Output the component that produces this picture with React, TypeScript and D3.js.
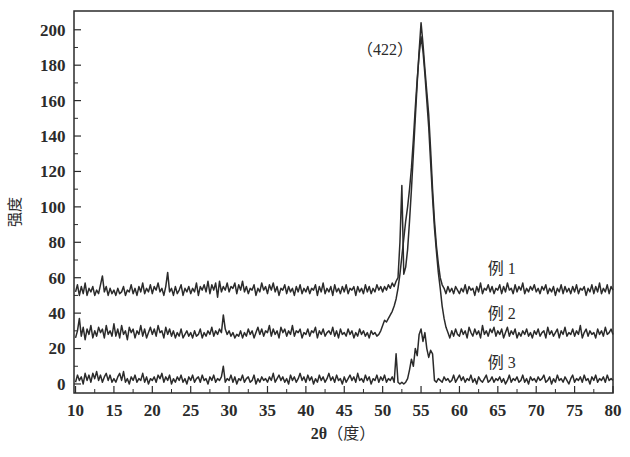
import React from 'react';
import * as d3 from 'd3';

// XRD pattern, sampled every 0.25 degree from 10 to 80
const startAngle = 10;
const stepAngle = 0.25;

const sample1 = [
  52, 56, 50, 55, 51, 57, 50, 54, 52, 55, 50, 53, 51, 56, 61, 52, 55, 50, 54, 51,
  53, 50, 54, 51, 52, 55, 50, 53, 52, 56, 51, 54, 50, 55, 52, 57, 51, 54, 52, 56,
  51, 55, 53, 57, 52, 54, 50, 55, 63, 52, 54, 50, 55, 51, 53, 56, 50, 54, 52, 55,
  51, 54, 52, 57, 50, 55, 53, 56, 52, 58, 51, 56, 53, 57, 49, 58, 52, 55, 53, 57,
  52, 55, 54, 57, 51, 56, 53, 58, 52, 55, 51, 54, 53, 56, 50, 54, 52, 57, 53, 55,
  51, 56, 53, 57, 52, 55, 50, 54, 53, 56, 51, 55, 52, 54, 50, 55, 52, 56, 51, 54,
  52, 55, 51, 54, 53, 56, 50, 55, 52, 57, 51, 54, 52, 55, 50, 56, 52, 54, 51, 55,
  52, 56, 51, 54, 53, 55, 50, 55, 52, 54, 51, 56, 52, 55, 51, 54, 52, 56, 53, 55,
  52, 55, 53, 56, 54, 57, 55, 58, 60, 80, 112, 62, 66, 76, 92, 110, 130, 150, 170, 188,
  204, 192, 178, 165, 152, 132, 110, 92, 78, 68, 60, 56, 54, 51, 55, 52, 54, 51, 55, 53,
  51, 54, 52, 56, 51, 55, 53, 54, 50, 55, 52, 57, 51, 54, 53, 56, 52, 55, 51, 54,
  53, 56, 51, 55, 52, 57, 53, 54, 51, 56, 52, 55, 53, 57, 51, 54, 52, 55, 53, 56,
  52, 54, 51, 55, 53, 56, 51, 54, 52, 55, 50, 54, 52, 56, 51, 55, 52, 54, 51, 55,
  52, 56, 51, 54, 53, 55, 50, 54, 52, 56, 51, 55, 52, 57, 51, 54, 52, 56, 51, 55,
  53,
];

const sample2 = [
  26, 30, 37, 27, 32, 25, 31, 28, 33, 26, 30, 27, 32, 29, 31, 26, 33, 28, 30, 27,
  34, 27, 31, 26, 33, 28, 30, 25, 32, 29, 31, 26, 30, 28, 33, 27, 31, 26, 29, 32,
  28, 31, 27, 33, 29, 30, 26, 32, 28, 31, 27, 30, 26, 29, 27, 31, 26, 28, 30, 27,
  29, 26, 30, 27, 28, 31, 26, 29, 27, 30, 28, 32, 27, 30, 28, 31, 29, 39, 31, 28,
  30, 27, 29, 26, 28, 27, 30, 26, 29, 27, 31, 28, 30, 26, 29, 32, 28, 31, 27, 30,
  29, 33, 27, 31, 28, 30, 26, 32, 29, 31, 27, 30, 28, 33, 27, 30, 29, 31, 26, 29,
  28, 31, 27, 30, 29, 32, 26, 30, 28, 31, 27, 29, 30, 28, 32, 27, 30, 26, 31, 28,
  29, 27, 31, 28, 30, 26, 29, 27, 31, 28, 30, 27, 29, 26, 30, 28, 29, 27, 28, 30,
  33, 36, 35, 37, 39, 41, 44, 48, 54, 62, 72, 82, 92, 100, 110, 122, 138, 156, 172, 186,
  196, 188, 175, 160, 145, 125, 105, 88, 75, 63, 54, 44, 37, 32, 29, 26, 30, 27, 31, 28,
  27, 31, 28, 30, 26, 32, 29, 27, 31, 28, 30, 26, 33, 28, 30, 27, 31, 29, 32, 27,
  30, 28, 31, 26, 29, 32, 27, 30, 28, 31, 26, 29, 27, 30, 28, 31, 27, 29, 26, 30,
  28, 31, 27, 29, 30, 26, 32, 28, 30, 27, 29, 31, 26, 30, 28, 32, 27, 29, 28, 31,
  27, 30, 28, 33, 26, 29, 31, 27, 30, 28, 29, 26, 31, 28, 30, 27, 32, 28, 29, 31,
  28,
];

const sample3 = [
  1, 5, 2, 4, 0, 6, 2, 5, 1, 6, 3, 7, 2, 5, 1, 4, 6, 2, 5, 1,
  3, 1, 4, 6, 2, 7, 1, 3, 0, 4, 2, 5, 1, 3, 2, 6, 1, 4, 0, 3,
  2, 4, 1, 5, 3, 6, 1, 4, 2, 5, 0, 3, 1, 4, 2, 5, 1, 3, 0, 4,
  2, 5, 1, 3, 4, 1, 5, 2, 3, 0, 4, 2, 5, 1, 3, 2, 4, 10, 1, 3,
  2, 5, 1, 4, 0, 3, 2, 5, 1, 3, 4, 1, 2, 5, 0, 3, 1, 4, 2, 3,
  1, 4, 2, 6, 1, 3, 5, 2, 4, 1, 3, 0, 5, 2, 4, 1, 3, 6, 2, 4,
  1, 5, 2, 4, 0, 3, 1, 5, 2, 4, 1, 3, 6, 2, 4, 1, 5, 2, 3, 0,
  4, 1, 3, 5, 2, 4, 1, 6, 2, 3, 1, 5, 2, 4, 0, 3, 2, 5, 1, 4,
  2, 5, 1, 3, 2, 4, 1, 17, 1, 0, 1, 0, 1, 3, 8, 14, 10, 20, 16, 28,
  31, 24, 29, 20, 15, 19, 17, 2, 1, 3, 2, 1, 4, 2, 3, 1, 2, 5, 1, 3,
  5, 2, 4, 1, 3, 2, 5, 1, 3, 0, 4, 2, 1, 3, 5, 1, 2, 4, 1, 3,
  2, 4, 1, 3, 0, 2, 5, 1, 3, 2, 4, 1, 2, 5, 1, 3, 0, 4, 2, 3,
  1, 4, 2, 3, 5, 1, 2, 4, 0, 3, 1, 5, 2, 3, 1, 4, 2, 0, 3, 5,
  1, 3, 2, 4, 1, 5, 2, 3, 0, 4, 2, 5, 1, 3, 2, 4, 1, 5, 2, 3,
  2,
];

const seriesNames = ['例 1', '例 2', '例 3'];
const seriesLabelAngle = 63.7;
const seriesLabelLevels = [65, 39.7, 12];

const peakLabelAngle = 50.3;
const peakLabelLevel = 189;

const xTicks = [10, 15, 20, 25, 30, 35, 40, 45, 50, 55, 60, 65, 70, 75, 80];
const yTicks = [0, 20, 40, 60, 80, 100, 120, 140, 160, 180, 200];

const width = 630;
const height = 457;
const left = 74;
const right = 613;
const top = 11;
const bottom = 393;

const serif = '"Liberation Serif", "DejaVu Serif", serif';
const cjk = '"Noto Sans CJK SC", sans-serif';
const ink = '#2b2b2b';

export default function App() {
  const x = d3.scaleLinear().domain([9.8, 80]).range([left, right]);
  const y = d3.scaleLinear().domain([-5.1, 210.6]).range([bottom, top]);

  const line = d3
    .line<number>()
    .x((d, i) => x(startAngle + i * stepAngle))
    .y((d) => y(d));

  const minorX = d3.range(10, 80.01, 2.5).filter((t) => !xTicks.includes(t));
  const minorY = d3.range(0, 210, 10).filter((t) => !yTicks.includes(t));

  return (
    <svg
      width={width}
      height={height}
      style={{ position: 'absolute', left: 0, top: 0, background: '#fff' }}
    >
      {/* traces */}
      {[sample1, sample2, sample3].map((s, k) => (
        <path
          key={k}
          d={line(s) || ''}
          fill="none"
          stroke={ink}
          strokeWidth={1.5}
          strokeLinejoin="round"
        />
      ))}

      {/* frame */}
      <rect
        x={left}
        y={top}
        width={right - left}
        height={bottom - top}
        fill="none"
        stroke={ink}
        strokeWidth={1.5}
      />

      {/* x ticks, inward */}
      {xTicks.map((t) => (
        <g key={'x' + t}>
          <line x1={x(t)} x2={x(t)} y1={bottom} y2={bottom - 7} stroke={ink} strokeWidth={1.2} />
          <text
            x={x(t)}
            y={416}
            textAnchor="middle"
            fontFamily={serif}
            fontWeight="bold"
            fontSize={17}
            fill={ink}
          >
            {t}
          </text>
        </g>
      ))}
      {minorX.map((t) => (
        <line key={'mx' + t} x1={x(t)} x2={x(t)} y1={bottom} y2={bottom - 4} stroke={ink} strokeWidth={1} />
      ))}

      {/* y ticks, inward */}
      {yTicks.map((t) => (
        <g key={'y' + t}>
          <line x1={left} x2={left + 7} y1={y(t)} y2={y(t)} stroke={ink} strokeWidth={1.2} />
          <text
            x={65.5}
            y={y(t)}
            dy="0.35em"
            textAnchor="end"
            fontFamily={serif}
            fontWeight="bold"
            fontSize={17}
            fill={ink}
          >
            {t}
          </text>
        </g>
      ))}
      {minorY.map((t) => (
        <line key={'my' + t} x1={left} x2={left + 4} y1={y(t)} y2={y(t)} stroke={ink} strokeWidth={1} />
      ))}

      {/* axis titles */}
      <text
        transform="translate(15,212) rotate(-90)"
        textAnchor="middle"
        dy="0.35em"
        fontFamily={cjk}
        fontSize={15}
        fill={ink}
      >
        强度
      </text>
      <text x={343} y={433} dy="0.35em" textAnchor="middle" fontSize={16} fill={ink}>
        <tspan fontFamily={serif} fontWeight="bold">2θ</tspan>
        <tspan fontFamily={cjk}>（度）</tspan>
      </text>

      {/* annotations */}
      <text
        x={x(peakLabelAngle)}
        y={y(peakLabelLevel)}
        dy="0.35em"
        textAnchor="middle"
        fontSize={16}
        fill={ink}
      >
        <tspan fontFamily={cjk}>（</tspan>
        <tspan fontFamily={serif}>422</tspan>
        <tspan fontFamily={cjk}>）</tspan>
      </text>
      {seriesNames.map((name, k) => (
        <text
          key={name}
          x={x(seriesLabelAngle)}
          y={y(seriesLabelLevels[k])}
          dy="0.35em"
          fontFamily={`${serif}, ${cjk}`}
          fontSize={16}
          fill={ink}
        >
          {name}
        </text>
      ))}
    </svg>
  );
}
